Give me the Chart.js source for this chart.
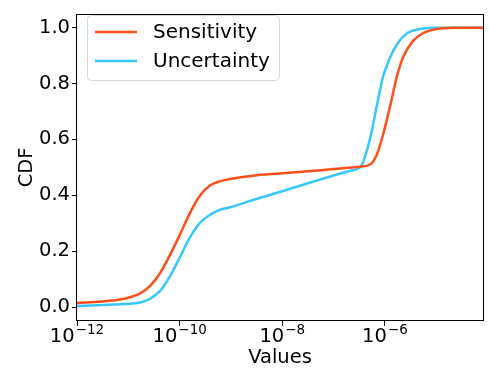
<!DOCTYPE html>
<html>
<head>
<meta charset="utf-8">
<script src="https://cdn.jsdelivr.net/npm/chart.js@4"></script>
<style>
  html, body { margin: 0; padding: 0; background: #fff; }
  #wrap { width: 489px; height: 370px; }
</style>
</head>
<body>
<div id="wrap"><canvas id="chart" width="489" height="370"></canvas></div>
<script>
'use strict';

// log10 of x
const sensExp = [-12, -11.5, -11.16, -10.97, -10.77, -10.58, -10.38, -10.19, -9.99, -9.8, -9.6, -9.41, -9.22, -9.02,
  -8.57, -8.05, -7.5, -7.0, -6.49, -6.29, -6.16, -6.04, -5.9, -5.77, -5.65, -5.46, -5.26, -4.99, -4.54, -4.09];
const sensCdf = [0.014, 0.02, 0.027, 0.035, 0.049, 0.075, 0.122, 0.186, 0.261, 0.336, 0.4, 0.435, 0.45, 0.458,
  0.47, 0.478, 0.486, 0.494, 0.502, 0.51, 0.545, 0.615, 0.719, 0.823, 0.893, 0.951, 0.98, 0.995, 1.0, 1.0];

const uncExp = [-12, -11.5, -11.16, -10.97, -10.77, -10.58, -10.38, -10.19, -9.99, -9.8, -9.6, -9.41, -9.22, -9.02,
  -8.57, -8.05, -7.5, -7.0, -6.68, -6.49, -6.43, -6.29, -6.16, -6.04, -5.9, -5.77, -5.57, -5.32, -5.0, -4.09];
const uncCdf = [0.004, 0.007, 0.01, 0.012, 0.016, 0.029, 0.058, 0.11, 0.18, 0.249, 0.302, 0.33, 0.348, 0.357,
  0.383, 0.412, 0.443, 0.471, 0.488, 0.499, 0.517, 0.603, 0.719, 0.823, 0.893, 0.939, 0.98, 0.995, 1.0, 1.0];

const xTickExp = [-12, -10, -8, -6];
const yTicks = [0, 0.2, 0.4, 0.6, 0.8, 1.0];

const FONT = 'DejaVu Sans';
const SENS_COLOR = '#ff5019';
const UNC_COLOR = '#36c8ff';

function toPoints(exps, vals) {
  return exps.map((e, i) => ({ x: Math.pow(10, e), y: vals[i] }));
}

// black frame around the axes, like matplotlib spines
const framePlugin = {
  id: 'frame',
  afterDatasetsDraw(chart) {
    const { ctx, chartArea: a } = chart;
    ctx.save();
    ctx.strokeStyle = '#000';
    ctx.lineWidth = 1;
    ctx.strokeRect(Math.round(a.left) - 0.5, Math.round(a.top) + 0.5,
      Math.round(a.right - a.left) + 1, Math.round(a.bottom - a.top) - 1);
    ctx.restore();
  }
};

// "10" with a raised exponent under each x tick
const powerLabels = {
  id: 'powerLabels',
  afterDraw(chart) {
    const { ctx } = chart;
    const scale = chart.scales.x;
    const base = '10';
    ctx.save();
    ctx.fillStyle = '#000';
    ctx.textBaseline = 'alphabetic';
    ctx.textAlign = 'left';
    xTickExp.forEach(e => {
      const px = scale.getPixelForValue(Math.pow(10, e));
      const exp = '\u2212' + Math.abs(e);
      ctx.font = '19.5px "' + FONT + '"';
      const wBase = ctx.measureText(base).width;
      ctx.font = '13.5px "' + FONT + '"';
      const wExp = ctx.measureText(exp).width;
      const left = px - (wBase + 1 + wExp) / 2;
      ctx.font = '19.5px "' + FONT + '"';
      ctx.fillText(base, left, scale.top + 20.5);
      ctx.font = '13.5px "' + FONT + '"';
      ctx.fillText(exp, left + wBase + 1, scale.top + 12.8);
    });
    ctx.restore();
  }
};

// legend box in the upper left of the plot
const legendPlugin = {
  id: 'boxLegend',
  afterDraw(chart) {
    const { ctx } = chart;
    const x = 87.5, y = 15.5, w = 192, h = 65, r = 4;
    ctx.save();
    ctx.beginPath();
    ctx.moveTo(x + r, y);
    ctx.arcTo(x + w, y, x + w, y + h, r);
    ctx.arcTo(x + w, y + h, x, y + h, r);
    ctx.arcTo(x, y + h, x, y, r);
    ctx.arcTo(x, y, x + w, y, r);
    ctx.closePath();
    ctx.fillStyle = 'rgba(255,255,255,0.8)';
    ctx.fill();
    ctx.strokeStyle = '#d6d6d6';
    ctx.lineWidth = 1;
    ctx.stroke();

    ctx.font = '20px "' + FONT + '"';
    ctx.textBaseline = 'middle';
    ctx.fillStyle = '#000';
    chart.data.datasets.forEach((ds, i) => {
      const cy = 32 + i * 29;
      ctx.beginPath();
      ctx.moveTo(95, cy);
      ctx.lineTo(137, cy);
      ctx.strokeStyle = ds.borderColor;
      ctx.lineWidth = 2.5;
      ctx.stroke();
      ctx.fillText(ds.label, 153, cy + 1);
    });
    ctx.restore();
  }
};

new Chart(document.getElementById('chart'), {
  type: 'line',
  data: {
    datasets: [
      { label: 'Sensitivity', data: toPoints(sensExp, sensCdf), borderColor: SENS_COLOR },
      { label: 'Uncertainty', data: toPoints(uncExp, uncCdf), borderColor: UNC_COLOR }
    ]
  },
  options: {
    responsive: false,
    animation: false,
    devicePixelRatio: 1,
    layout: { padding: { top: 5, right: 6, left: 0, bottom: 0 } },
    elements: {
      line: { borderWidth: 2.5, tension: 0.4, cubicInterpolationMode: 'monotone', fill: false },
      point: { radius: 0 }
    },
    plugins: {
      legend: { display: false },
      tooltip: { enabled: false }
    },
    scales: {
      x: {
        type: 'logarithmic',
        min: 1e-12,
        max: Math.pow(10, -4.09),
        afterBuildTicks(scale) {
          scale.ticks = xTickExp.map(e => ({ value: Math.pow(10, e) }));
        },
        afterFit(scale) { scale.height = 49; },
        ticks: { display: false, autoSkip: false },
        grid: { drawOnChartArea: false, tickLength: 5, color: '#000', lineWidth: 1 },
        border: { display: false },
        title: {
          display: true,
          text: 'Values',
          color: '#000',
          font: { family: FONT, size: 19.5 },
          padding: { top: 0, bottom: 0 }
        }
      },
      y: {
        type: 'linear',
        min: -0.05,
        max: 1.05,
        afterBuildTicks(scale) {
          scale.ticks = yTicks.map(v => ({ value: v }));
        },
        afterFit(scale) { scale.width = 77; },
        ticks: {
          callback: (v) => v.toFixed(1),
          color: '#000',
          font: { family: FONT, size: 19.5 },
          padding: 2
        },
        grid: { drawOnChartArea: false, tickLength: 5, color: '#000', lineWidth: 1 },
        border: { display: false },
        title: {
          display: true,
          text: 'CDF',
          color: '#000',
          font: { family: FONT, size: 19.5 },
          padding: { top: 15, bottom: 0 }
        }
      }
    }
  },
  plugins: [framePlugin, powerLabels, legendPlugin]
});
</script>
</body>
</html>
